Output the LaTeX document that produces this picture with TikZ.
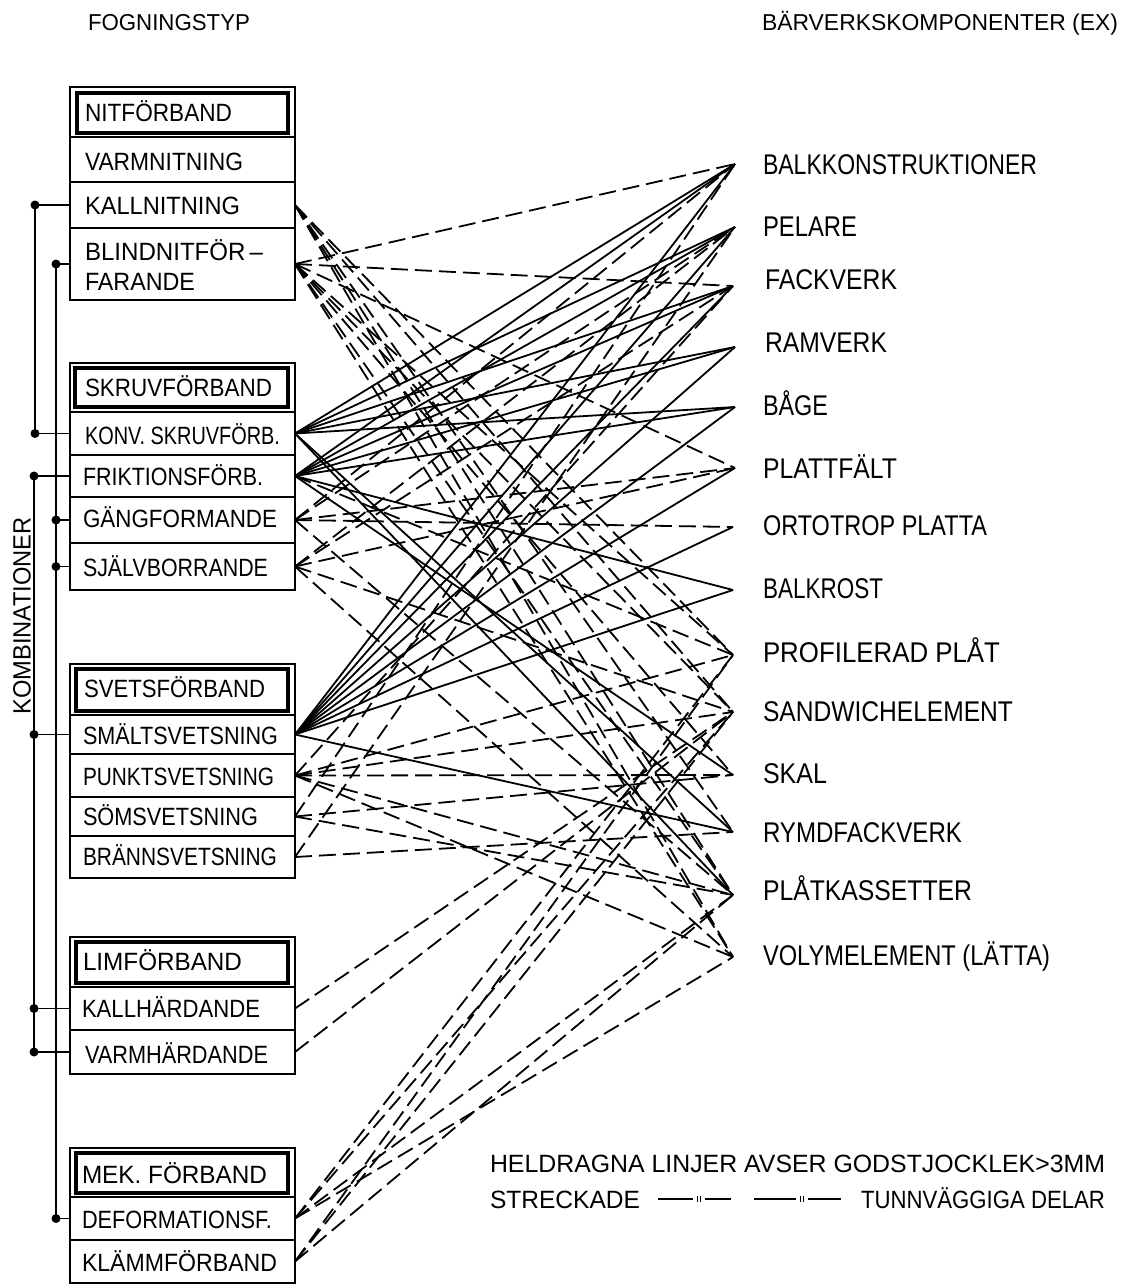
\documentclass[tikz,border=0pt]{standalone}
\usepackage{fontspec}
\setmainfont{Liberation Sans}
\newcommand\fw[2]{\resizebox{#1pt}{\height}{#2}}
\tikzset{
  every node/.style={inner sep=0pt, outer sep=0pt},
  rowbox/.style={draw, line width=2.4pt, minimum width=225pt, minimum height=#1, anchor=north west},
  innerbox/.style={draw, line width=3.2pt, anchor=north west},
  boxtxt/.style={anchor=base west, font=\fontsize{25}{27}\selectfont},
  comptxt/.style={anchor=base west, font=\fontsize{28.5}{30}\selectfont},
  titletxt/.style={anchor=base west, font=\fontsize{23}{25}\selectfont},
  legtxt/.style={anchor=base west, font=\fontsize{25}{27}\selectfont},
  dot/.style={circle, fill, minimum size=9pt},
  brk/.style={line width=1.8pt},
  sl/.style={line width=1.8pt},
  dl/.style={line width=1.8pt, dash pattern=on 17pt off 7pt},
  legline/.style={line width=1.8pt},
}
\begin{document}
\begin{tikzpicture}[x=1pt, y=-1pt]
\fill[white] (0,0) rectangle (1135,1285);
\useasboundingbox (0,0) rectangle (1135,1285);

% titles
\node[titletxt] (title-l) at (88,30) {\fw{162}{FOGNINGSTYP}};
\node[titletxt] (title-r) at (762,30) {\fw{356}{BÄRVERKSKOMPONENTER (EX)}};

% ---------- group 1: NIT ----------
\node[rowbox=50pt] (nit) at (70,87) {};
\node[innerbox, minimum width=211pt, minimum height=40pt] (nit-in) at (77,93) {};
\node[rowbox=45pt] (varmnit) at (70,137) {};
\node[rowbox=46pt] (kallnit) at (70,182) {};
\node[rowbox=72pt] (blindnit) at (70,228) {};
\node[boxtxt] (nit-t) at (85,121.7) {\fw{147}{NITFÖRBAND}};
\node[boxtxt] (varmnit-t) at (85,170.7) {\fw{158}{VARMNITNING}};
\node[boxtxt] (kallnit-t) at (85,214.7) {\fw{155}{KALLNITNING}};
\node[boxtxt] (blindnit-t1) at (85,260.7) {\fw{178}{BLINDNITFÖR\,–}};
\node[boxtxt] (blindnit-t2) at (85,290.7) {\fw{110}{FARANDE}};

% ---------- group 2: SKRUV ----------
\node[rowbox=49pt] (skruv) at (70,363) {};
\node[innerbox, minimum width=213pt, minimum height=39pt] (skruv-in) at (75,368) {};
\node[rowbox=43pt] (konv) at (70,412) {};
\node[rowbox=42pt] (frikt) at (70,455) {};
\node[rowbox=46pt] (gang) at (70,497) {};
\node[rowbox=47pt] (sjalv) at (70,543) {};
\node[boxtxt] (skruv-t) at (85,396.7) {\fw{187}{SKRUVFÖRBAND}};
\node[boxtxt] (konv-t) at (85,444.7) {\fw{195}{KONV. SKRUVFÖRB.}};
\node[boxtxt] (frikt-t) at (83,485.7) {\fw{180}{FRIKTIONSFÖRB.}};
\node[boxtxt] (gang-t) at (83,527.7) {\fw{194}{GÄNGFORMANDE}};
\node[boxtxt] (sjalv-t) at (83,576.7) {\fw{185}{SJÄLVBORRANDE}};

% ---------- group 3: SVETS ----------
\node[rowbox=51pt] (svets) at (70,664) {};
\node[innerbox, minimum width=212pt, minimum height=42pt] (svets-in) at (76,669) {};
\node[rowbox=39pt] (smalts) at (70,715) {};
\node[rowbox=43pt] (punkt) at (70,754) {};
\node[rowbox=39pt] (soms) at (70,797) {};
\node[rowbox=42pt] (branns) at (70,836) {};
\node[boxtxt] (svets-t) at (84,697.7) {\fw{181}{SVETSFÖRBAND}};
\node[boxtxt] (smalts-t) at (83,744.7) {\fw{195}{SMÄLTSVETSNING}};
\node[boxtxt] (punkt-t) at (83,785.7) {\fw{191}{PUNKTSVETSNING}};
\node[boxtxt] (soms-t) at (83,825.7) {\fw{175}{SÖMSVETSNING}};
\node[boxtxt] (branns-t) at (83,865.7) {\fw{194}{BRÄNNSVETSNING}};

% ---------- group 4: LIM ----------
\node[rowbox=50pt] (lim) at (70,937) {};
\node[innerbox, minimum width=212pt, minimum height=41pt] (lim-in) at (76,942) {};
\node[rowbox=43pt] (kallh) at (70,987) {};
\node[rowbox=44pt] (varmh) at (70,1030) {};
\node[boxtxt] (lim-t) at (83,970.7) {\fw{159}{LIMFÖRBAND}};
\node[boxtxt] (kallh-t) at (82,1017.7) {\fw{178}{KALLHÄRDANDE}};
\node[boxtxt] (varmh-t) at (85,1063.7) {\fw{183}{VARMHÄRDANDE}};

% ---------- group 5: MEK ----------
\node[rowbox=49pt] (mek) at (70,1148) {};
\node[innerbox, minimum width=212pt, minimum height=40pt] (mek-in) at (76,1153) {};
\node[rowbox=43pt] (deform) at (70,1197) {};
\node[rowbox=43pt] (klamm) at (70,1240) {};
\node[boxtxt] (mek-t) at (82,1183.7) {\fw{185}{MEK. FÖRBAND}};
\node[boxtxt] (deform-t) at (82,1228.7) {\fw{190}{DEFORMATIONSF.}};
\node[boxtxt] (klamm-t) at (82,1271.7) {\fw{195}{KLÄMMFÖRBAND}};

% ---------- combination brackets ----------
\node[font=\fontsize{25}{27}\selectfont, rotate=90] (komb) at (22,616) {\fw{197}{KOMBINATIONER}};
\node[dot] (da1) at (35,205) {};
\node[dot] (da2) at (35,433.5) {};
\node[dot] (db1) at (56,264) {};
\node[dot] (db2) at (56,520) {};
\node[dot] (db3) at (56,566.5) {};
\node[dot] (db4) at (56,1218.5) {};
\node[dot] (dc1) at (34,476) {};
\node[dot] (dc2) at (34,734.5) {};
\node[dot] (dc3) at (34,1008.5) {};
\node[dot] (dc4) at (34,1052) {};
\draw[brk] (da1.center) -- (da2.center);
\draw[brk] (db1.center) -- (db4.center);
\draw[brk] (dc1.center) -- (dc4.center);
\draw[brk] (da1.center) -- (kallnit.west);
\draw[brk] (da2.center) -- (konv.west);
\draw[brk] (db1.center) -- (blindnit.west);
\draw[brk] (db2.center) -- (gang.west);
\draw[brk] (db3.center) -- (sjalv.west);
\draw[brk] (db4.center) -- (deform.west);
\draw[brk] (dc1.center) -- (frikt.west);
\draw[brk] (dc2.center) -- (smalts.west);
\draw[brk] (dc3.center) -- (kallh.west);
\draw[brk] (dc4.center) -- (varmh.west);

% ---------- components ----------
\node[comptxt] (c-balk) at (763,174) {\fw{274}{BALKKONSTRUKTIONER}};
\node[comptxt] (c-pelare) at (763,236) {\fw{94}{PELARE}};
\node[comptxt] (c-fack) at (765,289) {\fw{132}{FACKVERK}};
\node[comptxt] (c-ram) at (765,352) {\fw{122}{RAMVERK}};
\node[comptxt] (c-bage) at (763,415) {\fw{65}{BÅGE}};
\node[comptxt] (c-plattf) at (763,478) {\fw{134}{PLATTFÄLT}};
\node[comptxt] (c-orto) at (763,535) {\fw{224}{ORTOTROP PLATTA}};
\node[comptxt] (c-balkr) at (763,598) {\fw{120}{BALKROST}};
\node[comptxt] (c-profil) at (763,662) {\fw{237}{PROFILERAD PLÅT}};
\node[comptxt] (c-sandw) at (763,721) {\fw{250}{SANDWICHELEMENT}};
\node[comptxt] (c-skal) at (763,783) {\fw{64}{SKAL}};
\node[comptxt] (c-rymdf) at (763,842) {\fw{199}{RYMDFACKVERK}};
\node[comptxt] (c-platk) at (763,900) {\fw{209}{PLÅTKASSETTER}};
\node[comptxt] (c-volym) at (763,965) {\fw{287}{VOLYMELEMENT (LÄTTA)}};

\coordinate (t-balk) at (735,164);
\coordinate (t-pelare) at (735,227);
\coordinate (t-fack) at (733,286);
\coordinate (t-ram) at (735,347);
\coordinate (t-bage) at (735,407);
\coordinate (t-plattf) at (735,468);
\coordinate (t-orto) at (733,527);
\coordinate (t-balkr) at (733,590);
\coordinate (t-profil) at (733,655);
\coordinate (t-sandw) at (733,712);
\coordinate (t-skal) at (733,775);
\coordinate (t-rymdf) at (733,832);
\coordinate (t-platk) at (733,895);
\coordinate (t-volym) at (733,957);

% ---------- connectors: solid ----------
\foreach \a/\b in {konv/balk, konv/pelare, konv/fack, konv/ram, konv/bage, konv/rymdf, konv/platk,
  frikt/balk, frikt/pelare, frikt/fack, frikt/ram, frikt/bage, frikt/balkr, frikt/skal,
  smalts/balk, smalts/pelare, smalts/fack, smalts/ram, smalts/bage, smalts/plattf, smalts/orto, smalts/balkr, smalts/rymdf}
  \draw[sl] (\a.east) -- (t-\b);

% ---------- connectors: dashed ----------
\foreach \a/\b in {kallnit/profil, kallnit/sandw, kallnit/rymdf, kallnit/platk, kallnit/volym,
  blindnit/balk, blindnit/fack, blindnit/plattf, blindnit/profil, blindnit/sandw, blindnit/skal, blindnit/platk, blindnit/volym,
  frikt/profil,
  gang/balk, gang/pelare, gang/plattf, gang/orto, gang/platk,
  sjalv/pelare, sjalv/fack, sjalv/plattf, sjalv/sandw, sjalv/volym,
  punkt/fack, punkt/profil, punkt/sandw, punkt/skal, punkt/platk, punkt/volym,
  soms/balk, soms/skal, soms/platk,
  branns/pelare, branns/rymdf,
  kallh/sandw, varmh/sandw,
  deform/profil, deform/sandw, deform/platk, deform/volym,
  klamm/profil, klamm/sandw, klamm/platk}
  \draw[dl] (\a.east) -- (t-\b);

% ---------- legend ----------
\node[legtxt] (leg1) at (490,1172) {\fw{615}{HELDRAGNA LINJER AVSER GODSTJOCKLEK>3MM}};
\node[legtxt] (leg2a) at (490,1208) {\fw{150}{STRECKADE}};
\node[legtxt] (leg2b) at (861,1208) {\fw{244}{TUNNVÄGGIGA DELAR}};
\coordinate (s1a) at (658,1199); \coordinate (s1b) at (693,1199);
\coordinate (s1c) at (705,1199); \coordinate (s1d) at (731,1199);
\coordinate (s2a) at (754,1199); \coordinate (s2b) at (796,1199);
\coordinate (s2c) at (808,1199); \coordinate (s2d) at (841,1199);
\draw[legline] (s1a) -- (s1b) (s1c) -- (s1d);
\draw[legline] (s2a) -- (s2b) (s2c) -- (s2d);
\draw[line width=1pt] (697.5,1196) -- (697.5,1202) (700.5,1196) -- (700.5,1202);
\draw[line width=1pt] (800.5,1196) -- (800.5,1202) (803.5,1196) -- (803.5,1202);
\end{tikzpicture}
\end{document}
